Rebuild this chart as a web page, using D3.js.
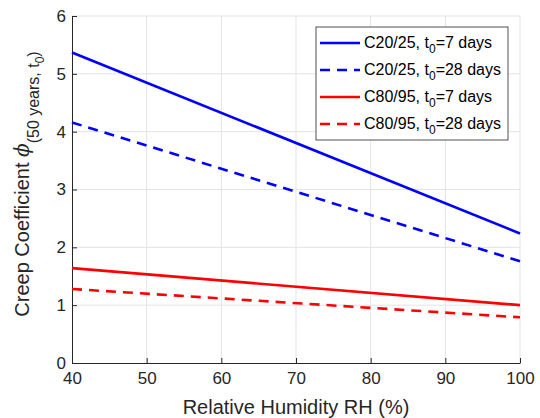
<!DOCTYPE html>
<html>
<head>
<meta charset="utf-8">
<script src="https://cdn.jsdelivr.net/npm/d3@7"></script>
<style>
  body { margin: 0; background: #fff; }
  svg { display: block; font-family: "Liberation Sans", Arial, sans-serif; }
  .axis path, .axis line { stroke: #262626; }
  .axis text { fill: #262626; font-size: 17px; font-family: "Liberation Sans", Arial, sans-serif; }
</style>
</head>
<body>
<div id="chart"></div>
<script>
// relative humidity (%) at the ends of each line
const RH = [40, 100];

// creep coefficient values
const C20_T7  = [5.37, 2.24];
const C20_T28 = [4.16, 1.76];
const C80_T7  = [1.64, 1.00];
const C80_T28 = [1.28, 0.79];

const X_TICKS = [40, 50, 60, 70, 80, 90, 100];
const Y_TICKS = [0, 1, 2, 3, 4, 5, 6];

const SERIES = [
  { cls: "C20/25", t0: "7",  values: C20_T7,  color: "#0000ff", dash: null },
  { cls: "C20/25", t0: "28", values: C20_T28, color: "#0000ff", dash: "10,7" },
  { cls: "C80/95", t0: "7",  values: C80_T7,  color: "#ff0000", dash: null },
  { cls: "C80/95", t0: "28", values: C80_T28, color: "#ff0000", dash: "10,7" }
];

const W = 540, H = 418;
const M = { left: 72, right: 20, top: 16, bottom: 55 };
const innerW = W - M.left - M.right, innerH = H - M.top - M.bottom;

const svg = d3.select("#chart").append("svg").attr("width", W).attr("height", H);
const plot = svg.append("g").attr("transform", `translate(${M.left},${M.top})`);

const x = d3.scaleLinear().domain([40, 100]).range([0, innerW]);
const y = d3.scaleLinear().domain([0, 6]).range([innerH, 0]);

// grid
plot.append("g").selectAll("line").data(X_TICKS.slice(1)).join("line")
    .attr("x1", d => x(d)).attr("x2", d => x(d)).attr("y1", 0).attr("y2", innerH)
    .attr("stroke", "#e3e3e3").attr("stroke-width", 1);
plot.append("g").selectAll("line").data(Y_TICKS.slice(1)).join("line")
    .attr("x1", 0).attr("x2", innerW).attr("y1", d => y(d)).attr("y2", d => y(d))
    .attr("stroke", "#e3e3e3").attr("stroke-width", 1);

// axes, MATLAB style: inward ticks
plot.append("g").attr("class", "axis")
    .attr("transform", `translate(0,${innerH})`)
    .call(d3.axisBottom(x).tickValues(X_TICKS).tickSize(-5).tickPadding(9).tickSizeOuter(0).tickFormat(d3.format("d")))
    .call(g => g.selectAll("text").attr("dy", "0.71em"));
plot.append("g").attr("class", "axis")
    .call(d3.axisLeft(y).tickValues(Y_TICKS).tickSize(-5).tickPadding(6).tickSizeOuter(0).tickFormat(d3.format("d")));

// series lines
const line = d3.line().x((d, i) => x(RH[i])).y(d => y(d));
plot.selectAll(".series").data(SERIES).join("path")
    .attr("class", "series")
    .attr("d", d => line(d.values))
    .attr("fill", "none")
    .attr("stroke", d => d.color)
    .attr("stroke-width", 2.6)
    .attr("stroke-dasharray", d => d.dash);

// axis titles
svg.append("text")
    .attr("x", M.left + innerW / 2).attr("y", 414)
    .attr("text-anchor", "middle").attr("font-size", 20).attr("fill", "#262626")
    .text("Relative Humidity RH (%)");

const yl = svg.append("text")
    .attr("transform", "translate(29,184) rotate(-90)")
    .attr("text-anchor", "middle").attr("font-size", 20).attr("fill", "#262626");
yl.append("tspan").text("Creep Coefficient ");
yl.append("tspan").attr("font-family", "DejaVu Serif").attr("font-style", "italic").text("ϕ");
yl.append("tspan").attr("font-size", 16).attr("dy", 10).text("(50 years, t");
yl.append("tspan").attr("font-size", 12).attr("dy", 5).text("0");
yl.append("tspan").attr("font-size", 16).attr("dy", -5).text(")");

// legend
const lg = svg.append("g").attr("transform", "translate(316,27)");
lg.append("rect").attr("width", 192).attr("height", 113)
    .attr("fill", "#fff").attr("stroke", "#262626").attr("stroke-width", 0.8);
SERIES.forEach((s, i) => {
  const row = lg.append("g").attr("transform", `translate(0,${16 + i * 27})`);
  row.append("line").attr("x1", 4).attr("x2", 44).attr("y1", 0).attr("y2", 0)
      .attr("stroke", s.color).attr("stroke-width", 2.6).attr("stroke-dasharray", s.dash);
  const t = row.append("text").attr("x", 48).attr("y", 5).attr("font-size", 16).attr("fill", "#000");
  t.append("tspan").text(`${s.cls}, t`);
  t.append("tspan").attr("font-size", 12).attr("dy", 5).text("0");
  t.append("tspan").attr("dy", -5).text(`=${s.t0} days`);
});
</script>
</body>
</html>
